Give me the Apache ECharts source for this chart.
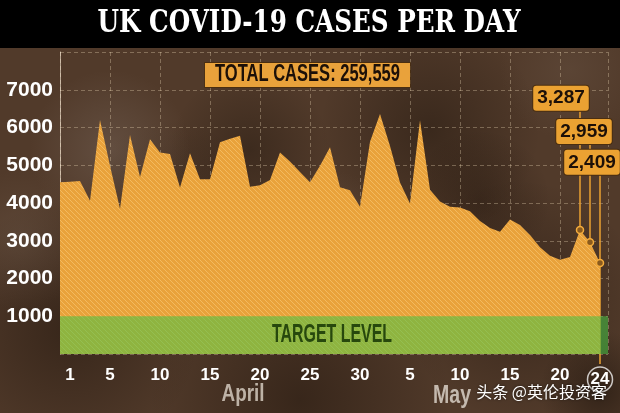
<!DOCTYPE html>
<html><head><meta charset="utf-8">
<script src="https://cdn.jsdelivr.net/npm/echarts@6/dist/echarts.min.js"></script>
<style>html,body{margin:0;padding:0;background:#523b2b}#c{width:620px;height:413px}</style>
</head><body><div id="c"></div>
<script>
// ---- data ----
const dayLabels = ['31','1','2','3','4','5','6','7','8','9','10','11','12','13','14','15','16','17','18','19','20','21','22','23','24','25','26','27','28','29','30',
  '1','2','3','4','5','6','7','8','9','10','11','12','13','14','15','16','17','18','19','20','21','22','23','24'];
const cases = [4550,4560,4580,4060,6200,4990,3850,5800,4690,5690,5340,5300,4410,5320,4630,4630,5610,5700,5780,4430,4470,4610,5340,5100,4820,4550,4990,5480,4420,4340,3900,
  5620,6360,5510,4540,3990,6190,4350,4040,3900,3880,3780,3520,3340,3240,3560,3420,3150,2830,2600,2500,2570,3287,2959,2409];
const labelDays = [1,5,10,15,20,25,30,35,40,45,50,54];
const yTicks = [1000,2000,3000,4000,5000,6000,7000];
const calloutIdx = [52,53,54];
const targetLevel = 1000;
const totalCases = 259559;
const titleText = 'UK COVID-19 CASES PER DAY';
const months = ['April','May'];
const targetText = 'TARGET LEVEL';

// ---- styles ----
const LS = "'Liberation Sans',Arial,sans-serif";
const ORANGE = '#E9A23B';
const LINE_C = '#EBA232';
const calloutDist = {52:115, 53:94, 54:84};
const calloutOffX = {52:-19, 53:-6, 54:-8};
const SYM = 7;

function hatch(base, line, size){
  const c = document.createElement('canvas'); c.width = c.height = size;
  const g = c.getContext('2d');
  g.fillStyle = base; g.fillRect(0,0,size,size);
  g.strokeStyle = line; g.lineWidth = 1;
  g.beginPath(); g.moveTo(-1,-1); g.lineTo(size+1,size+1); g.stroke();
  return c;
}
const orangePat = hatch(ORANGE, 'rgba(255,215,140,0.45)', 5);

const mctx = document.createElement('canvas').getContext('2d');
function fit(text, font, target){ mctx.font = font; return target / mctx.measureText(text).width; }

function blot(cx, cy, r, rgb, a){
  return {type:'circle', z:-10, silent:true, shape:{cx, cy, r},
    style:{fill: new echarts.graphic.RadialGradient(0.5,0.5,0.5,[
      {offset:0,color:`rgba(${rgb},${a})`},{offset:1,color:`rgba(${rgb},0)`}])}};
}
function fitText(id, txt, font, width, x, y, fill, extra){
  return Object.assign({id, type:'text', z:8, silent:true, x, y, scaleX: fit(txt, font, width),
    style:Object.assign({x:0, y:0, text:txt, font, fill, textAlign:'center', textVerticalAlign:'middle'}, extra||{})});
}

const titleFont = "bold 31px 'DejaVu Serif',serif";
const totalStr = 'TOTAL CASES: ' + totalCases.toLocaleString('en-US');
const totalFont = "bold 23px " + LS;
const totalScale = fit(totalStr, totalFont, 185);

const chart = echarts.init(document.getElementById('c'));
chart.setOption({
  backgroundColor: '#513a2a',
  animation: false,
  graphic: [
    blot(70,330,130,'25,15,8',0.45), blot(300,400,150,'25,15,8',0.45), blot(520,300,120,'25,15,8',0.4),
    blot(430,130,110,'30,20,12',0.45), blot(170,210,90,'30,20,12',0.3), blot(250,150,80,'30,20,12',0.4),
    blot(110,150,80,'140,125,115',0.3), blot(20,240,70,'120,100,85',0.3), blot(570,70,70,'120,100,85',0.25),
    blot(330,230,60,'110,95,85',0.25), blot(600,390,60,'20,12,6',0.5), blot(480,200,70,'25,15,8',0.35),
    {type:'rect', z:1, silent:true, shape:{x:0,y:0,width:620,height:48}, style:{fill:'#000'}},
    fitText('title', titleText, titleFont, 423, 309, 24, '#fff'),
    {id:'total', type:'text', z:8, silent:true, x:307.5, y:75, scaleX: totalScale,
      style:{x:0, y:0, text: totalStr, font: totalFont, fill:'#1c1008', textAlign:'center', textVerticalAlign:'middle',
        backgroundColor: ORANGE, borderColor:'#4a2e10', borderWidth:1, padding:[1, 10/totalScale], lineHeight:22}},
    fitText('april', months[0], "bold 23px " + LS, 43, 243, 395, '#bdb2a6'),
    fitText('may', months[1], "bold 26px " + LS, 38, 452, 396, '#c4b9ae'),
    {type:'text', z:9, silent:true, style:{x:607, y:392, text:'头条 @英伦投资客', textAlign:'right', textVerticalAlign:'middle',
      fill:'#ffffff', font:"16px 'Noto Sans CJK SC',sans-serif", textShadowColor:'rgba(0,0,0,0.6)', textShadowBlur:3}}
  ],
  grid: {left:60, right:12, top:52, bottom:59},
  xAxis: {
    type:'value', min:0, max:54.8, interval:5,
    axisLine:{show:false},
    axisTick:{show:false},
    splitLine:{show:true, lineStyle:{color:'rgba(255,235,200,0.3)', type:[4,3], width:1}},
    axisLabel:{customValues: labelDays, margin:13, color:'#fff', fontSize:17, fontWeight:'bold', fontFamily:LS,
      formatter: v => v === dayLabels.length-1 ? '{c|' + dayLabels[v] + '}' : dayLabels[v],
      rich:{c:{color:'#fff', fontSize:17, fontWeight:'bold', fontFamily:LS, width:25, height:25, lineHeight:25,
        align:'center', borderColor:'rgba(255,255,255,0.75)', borderWidth:1.5, borderRadius:14}}}
  },
  yAxis: {
    type:'value', min:0, max:8000, interval:1000,
    axisLine:{show:true, lineStyle:{color:'rgba(255,240,220,0.6)', width:1}},
    axisTick:{show:false},
    splitLine:{show:true, lineStyle:{color:'rgba(255,235,200,0.3)', type:[4,3], width:1}},
    axisLabel:{customValues: yTicks, margin:7, color:'#fff', fontSize:21, fontWeight:'bold', fontFamily:LS,
      formatter: v => String(v)}
  },
  series: [{
    type:'line',
    data: cases.map((v,i) => calloutIdx.includes(i)
      ? {value:[i,v], symbolSize:SYM, label:{show:true, distance:calloutDist[i], offset:[calloutOffX[i],0]}}
      : {value:[i,v], symbolSize:0}),
    symbol:'circle', showSymbol:true, z:3,
    lineStyle:{width:0},
    areaStyle:{color:{image:orangePat, repeat:'repeat'}, opacity:1},
    itemStyle:{color:'#8a5a1e', borderColor:'#F4AC3C', borderWidth:1.5},
    label:{show:false, position:'top',
      formatter: p => p.value[1].toLocaleString('en-US'),
      backgroundColor:LINE_C, borderColor:'#4a2e10', borderWidth:1, borderRadius:3, padding:[2,4],
      color:'#1c1008', fontFamily:LS, fontWeight:'bold', fontSize:19, lineHeight:21},
    markArea:{silent:true, z:4,
      itemStyle:{color:'rgba(70,195,70,0.55)'},
      label:{show:false},
      data:[[{yAxis:0},{yAxis:targetLevel}]]}
  }]
});

// annotations placed through the axes
const extra = [];
const tx = (chart.convertToPixel({xAxisIndex:0}, 0) + chart.convertToPixel({xAxisIndex:0}, 54.8)) / 2;
const ty = chart.convertToPixel({yAxisIndex:0}, targetLevel / 2);
extra.push(fitText('target', targetText, "bold 25px " + LS, 120, tx - 2, ty, '#27480d'));
calloutIdx.forEach(i => {
  const [px, py] = chart.convertToPixel({seriesIndex:0}, [i, cases[i]]);
  extra.push({id:'lead'+i, type:'line', z:2, silent:true,
    shape:{x1:px, y1:py - SYM/2, x2:px, y2:py - SYM/2 - calloutDist[i]}, style:{stroke:LINE_C, lineWidth:1.5}});
});
const last = cases.length - 1;
const [lx, ly] = chart.convertToPixel({seriesIndex:0}, [last, cases[last]]);
const base = chart.convertToPixel({yAxisIndex:0}, 0);
extra.push({id:'leadDown', type:'line', z:2, silent:true,
  shape:{x1:lx, y1:ly + SYM/2, x2:lx, y2:base + 10}, style:{stroke:LINE_C, lineWidth:1.5}});
chart.setOption({graphic: extra});
</script>
</body></html>
